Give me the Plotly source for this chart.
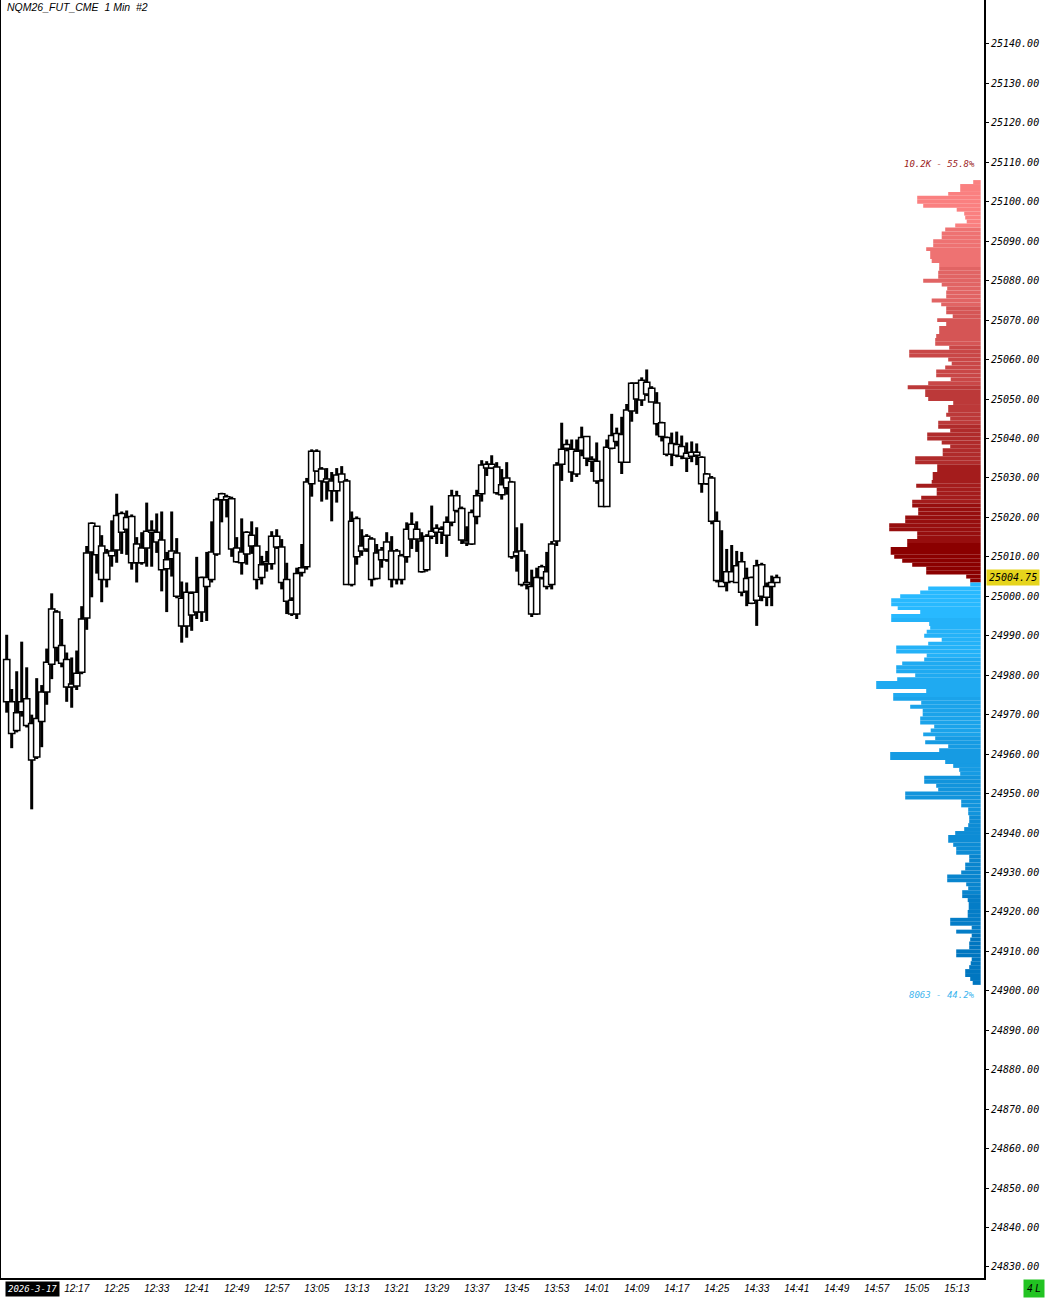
import plotly.graph_objects as go
import pandas as pd

# ---------------- data ----------------
session_date = "2026-03-17"
first_bar = "12:03"

highs = [24990.25, 24976.5, 24981.0, 24988.5, 24982.0, 24970.0, 24979.25, 24977.5, 24986.75, 25000.75,
         24996.5, 24994.25, 24985.75, 24984.5, 24986.25, 24997.5, 25012.75, 25018.75, 25017.75, 25015.5,
         25012.0, 25019.25, 25026.0, 25021.5, 25021.75, 25020.75, 25015.0, 25016.25, 25023.75, 25019.25,
         25021.0, 25021.5, 25011.25, 25021.5, 25014.75, 25003.75, 25003.5, 25001.25, 25010.0, 25005.0,
         25011.25, 25019.0, 25025.0, 25026.25, 25025.75, 25025.25, 25015.0, 25019.75, 25016.5, 25019.0,
         25017.5, 25010.25, 25011.5, 25016.5, 25017.0, 25014.5, 25008.5, 24999.75, 25007.25, 25013.25,
         25030.0, 25037.25, 25037.25, 25032.75, 25032.5, 25031.5, 25032.5, 25033.0, 25029.75, 25021.5,
         25020.25, 25017.0, 25015.75, 25015.0, 25013.25, 25012.5, 25016.25, 25015.25, 25012.0, 25010.75,
         25018.75, 25021.25, 25019.0, 25016.25, 25015.75, 25023.0, 25018.25, 25017.75, 25020.25, 25027.0,
         25026.75, 25022.75, 25017.75, 25022.0, 25027.0, 25034.5, 25034.25, 25035.75, 25034.0, 25032.25,
         25034.0, 25029.25, 25017.5, 25018.5, 25010.75, 25006.75, 25007.25, 25008.0, 25011.25, 25014.0,
         25034.0, 25044.0, 25039.75, 25039.75, 25039.75, 25043.0, 25040.5, 25035.5, 25039.0, 25029.75,
         25039.75, 25046.25, 25042.75, 25045.5, 25048.75, 25054.25, 25054.25, 25055.5, 25057.5, 25053.25,
         25051.75, 25044.25, 25040.5, 25041.5, 25041.75, 25040.75, 25039.0, 25039.25, 25038.75, 25035.5,
         25031.25, 25030.5, 25021.5, 25016.75, 25012.0, 25013.0, 25011.5, 25011.25, 25007.25, 25005.0,
         25009.25, 25008.5, 25003.5, 25005.25, 25005.5]

lows = [24970.5, 24961.5, 24965.5, 24969.5, 24966.75, 24946.0, 24958.75, 24961.75, 24972.5, 24979.0,
        24983.5, 24982.0, 24973.25, 24971.75, 24976.25, 24980.25, 24991.5, 24999.75, 25005.75, 24998.5,
        25002.25, 25007.5, 25008.5, 25010.75, 25010.5, 25006.75, 25003.5, 25008.0, 25007.5, 25007.5,
        25011.0, 25001.25, 24996.0, 25005.0, 24999.5, 24988.25, 24989.5, 24991.25, 24994.25, 24993.5,
        24993.75, 25003.5, 25010.25, 25018.75, 25020.0, 25010.0, 25008.5, 25005.5, 25008.0, 25010.75,
        25001.75, 25003.0, 25006.25, 25006.75, 25012.0, 25001.75, 24995.5, 24995.0, 24994.25, 25005.0,
        25006.75, 25025.25, 25031.5, 25024.0, 25024.5, 25019.0, 25023.75, 25029.0, 25003.0, 25002.5,
        25008.0, 25010.25, 25011.25, 25002.5, 25004.25, 25007.25, 25008.75, 25002.25, 25003.0, 25003.0,
        25008.5, 25012.0, 25011.25, 25006.0, 25006.25, 25014.5, 25013.25, 25013.25, 25010.0, 25017.75,
        25021.25, 25013.25, 25012.75, 25013.0, 25018.25, 25024.0, 25030.5, 25032.25, 25025.75, 25024.5,
        25025.75, 25009.5, 25006.25, 25002.5, 25001.75, 24994.75, 24995.25, 25004.25, 25001.75, 25001.75,
        25012.75, 25029.25, 25036.75, 25029.0, 25030.25, 25035.5, 25033.0, 25031.5, 25028.5, 25022.75,
        25022.75, 25037.25, 25038.0, 25031.0, 25034.0, 25044.25, 25046.25, 25048.25, 25050.75, 25049.25,
        25040.75, 25039.25, 25035.5, 25033.0, 25035.25, 25034.75, 25031.5, 25034.0, 25033.25, 25026.25,
        25028.25, 25018.25, 25003.5, 25002.5, 25001.25, 25003.75, 25003.5, 25000.0, 24997.5, 24998.0,
        24992.5, 24998.75, 24997.5, 24997.5, 25003.5]

body_high = [24984.0, 24973.25, 24970.5, 24973.25, 24974.0, 24967.75, 24969.0, 24975.75, 24983.25, 24996.75,
             24996.0, 24987.5, 24984.0, 24977.75, 24980.5, 24994.25, 25011.0, 25018.5, 25017.75, 25012.75,
             25011.0, 25011.5, 25020.5, 25021.0, 25020.0, 25020.25, 25013.25, 25012.25, 25016.5, 25016.75,
             25016.25, 25014.25, 25009.25, 25011.5, 25011.0, 24999.5, 25001.0, 25000.75, 25001.0, 25004.75,
             25004.75, 25011.25, 25024.5, 25026.0, 25025.25, 25024.75, 25012.25, 25011.25, 25016.25, 25015.5,
             25012.75, 25008.0, 25008.75, 25015.25, 25015.25, 25012.5, 25004.25, 24999.0, 25005.75, 25007.25,
             25029.0, 25036.75, 25036.75, 25032.25, 25029.75, 25029.25, 25030.75, 25031.0, 25029.25, 25019.0,
             25019.75, 25012.75, 25015.25, 25014.5, 25011.0, 25011.75, 25013.75, 25011.5, 25011.5, 25010.25,
             25017.0, 25018.25, 25017.0, 25014.0, 25015.25, 25016.5, 25017.25, 25017.0, 25018.75, 25025.5,
             25025.5, 25022.25, 25014.0, 25021.25, 25025.5, 25033.25, 25033.5, 25033.5, 25032.75, 25028.25,
             25030.0, 25029.0, 25011.25, 25011.5, 25003.5, 25002.5, 25004.75, 25007.5, 25006.25, 25013.25,
             25033.25, 25037.25, 25038.5, 25037.25, 25036.75, 25040.25, 25040.5, 25034.75, 25034.25, 25029.25,
             25037.75, 25040.75, 25041.25, 25041.0, 25047.25, 25054.0, 25054.0, 25054.75, 25054.25, 25052.75,
             25049.0, 25044.0, 25040.25, 25038.75, 25038.5, 25038.0, 25036.25, 25036.5, 25036.5, 25035.25,
             25031.0, 25030.0, 25019.0, 25003.75, 25006.25, 25006.25, 25007.75, 25008.75, 25004.5, 25004.75,
             25007.75, 25008.0, 25002.5, 25003.5, 25004.75]

body_low = [24973.25, 24965.25, 24966.0, 24970.75, 24967.25, 24958.5, 24959.25, 24968.25, 24975.75, 24982.75,
            24987.0, 24983.0, 24977.0, 24977.0, 24977.25, 24980.75, 24994.5, 25011.25, 25010.5, 25004.25,
            25004.25, 25010.25, 25011.75, 25016.25, 25017.0, 25008.5, 25008.5, 25008.5, 25012.25, 25016.25,
            25013.75, 25006.75, 25007.0, 25009.5, 25000.0, 24992.5, 24992.5, 24995.25, 24996.0, 24996.0,
            25002.5, 25004.25, 25010.75, 25024.5, 25024.5, 25012.0, 25008.75, 25008.5, 25010.75, 25012.75,
            25004.25, 25004.75, 25008.25, 25008.25, 25012.5, 25003.5, 24998.75, 24995.5, 24995.5, 25006.0,
            25007.5, 25028.5, 25031.75, 25029.25, 25029.0, 25026.75, 25026.75, 25029.0, 25003.0, 25003.0,
            25010.0, 25011.5, 25012.0, 25004.25, 25004.5, 25009.25, 25009.25, 25004.25, 25004.25, 25004.25,
            25010.0, 25014.5, 25014.5, 25006.25, 25006.75, 25015.25, 25016.25, 25016.25, 25015.5, 25018.75,
            25021.75, 25014.25, 25013.5, 25013.25, 25020.25, 25026.0, 25032.5, 25032.5, 25026.25, 25025.75,
            25027.5, 25010.0, 25010.25, 25003.0, 25003.0, 24995.5, 24995.5, 25004.75, 25002.5, 25003.0,
            25014.0, 25033.5, 25037.5, 25031.5, 25031.0, 25037.0, 25035.0, 25034.25, 25029.25, 25022.75,
            25022.75, 25037.5, 25039.25, 25034.0, 25034.0, 25047.0, 25050.0, 25049.75, 25051.25, 25049.25,
            25043.75, 25040.5, 25036.0, 25036.0, 25035.75, 25035.5, 25035.0, 25035.5, 25035.75, 25028.5,
            25028.5, 25019.0, 25004.0, 25002.5, 25003.5, 25003.75, 25003.5, 25001.0, 25001.25, 24998.25,
            24999.0, 25000.0, 24999.75, 25002.5, 25003.5]

last_price = 25004.75

time_labels = ["12:17", "12:25", "12:33", "12:41", "12:49", "12:57", "13:05", "13:13", "13:21",
               "13:29", "13:37", "13:45", "13:53", "14:01", "14:09", "14:17", "14:25", "14:33",
               "14:41", "14:49", "14:57", "15:05", "15:13"]

price_ticks = list(range(24830, 25141, 10))

# volume profile: rows of 1 point, from top down
above_top_price = 25105     # rows 25105 ... 25004 (above/at last price)
above_volumes = [15, 41, 41, 65, 127, 127, 115, 48, 33, 31,
                 28, 51, 71, 78, 78, 95, 95, 109, 101, 101,
                 98, 83, 83, 85, 85, 115, 78, 67, 69, 69,
                 98, 79, 69, 69, 56, 87, 69, 83, 83, 89,
                 91, 91, 63, 143, 143, 65, 58, 71, 89, 89,
                 60, 105, 146, 111, 111, 105, 55, 65, 65, 69,
                 61, 85, 85, 61, 107, 107, 78, 61, 76, 76,
                 131, 131, 87, 87, 96, 96, 98, 129, 88, 88,
                 119, 137, 137, 125, 125, 151, 151, 183, 183, 127,
                 127, 147, 147, 180, 180, 173, 157, 137, 109, 109,
                 29, 21]
below_top_price = 25003     # rows 25003 ... 24902
below_volumes = [21, 105, 121, 161, 179, 179, 166, 121, 179, 179,
                 103, 101, 108, 113, 78, 105, 169, 169, 108, 113,
                 157, 169, 169, 131, 167, 209, 209, 109, 175, 175,
                 119, 141, 116, 116, 121, 121, 93, 100, 115, 91,
                 111, 65, 83, 181, 181, 71, 55, 43, 41, 113,
                 113, 89, 85, 151, 151, 39, 39, 25, 25, 23,
                 23, 25, 33, 51, 65, 65, 55, 49, 49, 23,
                 23, 31, 31, 39, 67, 67, 29, 25, 37, 37,
                 26, 24, 24, 26, 26, 61, 61, 18, 49, 18,
                 21, 23, 23, 49, 49, 18, 20, 23, 31, 31, 21, 16]
above_label = "10.2K - 55.8%"
below_label = "8063 - 44.2%"

# ---------------- build ----------------
t0 = pd.Timestamp(f"{session_date} {first_bar}")
times = [t0 + pd.Timedelta(minutes=i) for i in range(len(highs))]
minute_ms = 60000

wick_len = [h - l for h, l in zip(highs, lows)]
body_len = [max(a - b, 0.5) for a, b in zip(body_high, body_low)]
body_base = [b if a - b >= 0.5 else (a + b) / 2 - 0.25 for a, b in zip(body_high, body_low)]

above_prices = [above_top_price - k for k in range(len(above_volumes))]
below_prices = [below_top_price - k for k in range(len(below_volumes))]


def mix(c1, c2, f):
    return "rgb(%d,%d,%d)" % tuple(round(a + (b - a) * f) for a, b in zip(c1, c2))


red_light, red_dark = (250, 128, 128), (139, 0, 0)
blue_light, blue_dark = (40, 185, 255), (0, 118, 192)
above_colors = []
for p in above_prices:
    band = min(int((p - 25004) // 10), 9)          # 0 = lowest band (darkest)
    above_colors.append(mix(red_dark, red_light, band / 9))
below_colors = []
for p in below_prices:
    band = min(int((25004 - p) // 10), 9)          # 0 = highest band (lightest)
    below_colors.append(mix(blue_light, blue_dark, band / 9))

fig = go.Figure()

fig.add_trace(go.Bar(x=times, y=wick_len, base=lows, width=0.6 * minute_ms,
                     marker=dict(color="black", line=dict(width=0)), hoverinfo="skip"))
fig.add_trace(go.Bar(x=times, y=body_len, base=body_base, width=1.25 * minute_ms,
                     marker=dict(color="white", line=dict(color="black", width=1.5)), hoverinfo="skip"))

fig.add_trace(go.Bar(y=above_prices, x=above_volumes, orientation="h", width=1.0,
                     xaxis="x2", yaxis="y",
                     marker=dict(color=above_colors, line=dict(width=0)), hoverinfo="skip"))
fig.add_trace(go.Bar(y=below_prices, x=below_volumes, orientation="h", width=1.0,
                     xaxis="x2", yaxis="y",
                     marker=dict(color=below_colors, line=dict(width=0)), hoverinfo="skip"))

x_start = t0 - pd.Timedelta(minutes=1.14)
x_end = t0 + pd.Timedelta(minutes=195.46)
tick_times = [pd.Timestamp(f"{session_date} {t}") for t in time_labels]

mono = "DejaVu Sans Mono"
fig.update_layout(
    width=1046, height=1298,
    margin=dict(l=1, r=62, t=0, b=20),
    paper_bgcolor="white", plot_bgcolor="white",
    showlegend=False, barmode="overlay",
    xaxis=dict(type="date", range=[x_start, x_end], tickvals=tick_times, ticktext=time_labels,
               showgrid=False, zeroline=False, showline=True, linecolor="black", linewidth=2,
               ticks="", tickfont=dict(family="Liberation Sans", size=10, color="black", style="italic")),
    xaxis2=dict(overlaying="x", range=[1959.4, -6.6], autorange=False, visible=False, side="top"),
    yaxis=dict(side="right", range=[24827.2, 25151.15], tickvals=price_ticks,
               ticktext=[f"{v:.2f}" for v in price_ticks],
               showgrid=False, zeroline=False, showline=True, mirror=True,
               linecolor="black", linewidth=2, ticks="outside", ticklen=3, tickwidth=1,
               tickcolor="black",
               tickfont=dict(family=mono, size=10, color="black", style="italic")),
)

fig.add_annotation(text="NQM26_FUT_CME\u00a0\u00a01 Min\u00a0\u00a0#2", xref="paper", yref="paper",
                   x=0.004, y=1, xanchor="left", yanchor="top", yshift=1, showarrow=False,
                   font=dict(family="Liberation Sans", size=10.5, color="black", style="italic"))
fig.add_annotation(text=session_date.replace("-03-", "-3-"), xref="paper", yref="paper",
                   x=0.004, y=0, xanchor="left", yanchor="top", yshift=-3, showarrow=False,
                   bgcolor="black", borderpad=2,
                   font=dict(family=mono, size=9, color="white", style="italic"))
fig.add_annotation(text="4 L", xref="paper", yref="paper",
                   x=(1045 - 1) / 983, y=0, xanchor="right", yanchor="top", yshift=-1, showarrow=False,
                   bgcolor="#22C322", borderpad=3,
                   font=dict(family="Liberation Sans", size=10, color="black", style="italic"))
fig.add_annotation(text=f"{last_price:.2f}", xref="paper", yref="y",
                   x=1, y=last_price, xanchor="left", yanchor="middle", xshift=2, showarrow=False,
                   bgcolor="#E6D41C", borderpad=2,
                   font=dict(family=mono, size=10, color="black", style="italic"))
fig.add_annotation(text=above_label, xref="paper", yref="y",
                   x=(977 - 1) / 983, y=25109.5, xanchor="right", yanchor="middle", showarrow=False,
                   font=dict(family=mono, size=9, color="#9B1B1B", style="italic"))
fig.add_annotation(text=below_label, xref="paper", yref="y",
                   x=(977 - 1) / 983, y=24898.9, xanchor="right", yanchor="middle", showarrow=False,
                   font=dict(family=mono, size=9, color="#3CB4EE", style="italic"))

fig.write_html("out.html", config={"displayModeBar": False},
               post_script="document.body.style.margin='0px';document.body.style.padding='0px';")
